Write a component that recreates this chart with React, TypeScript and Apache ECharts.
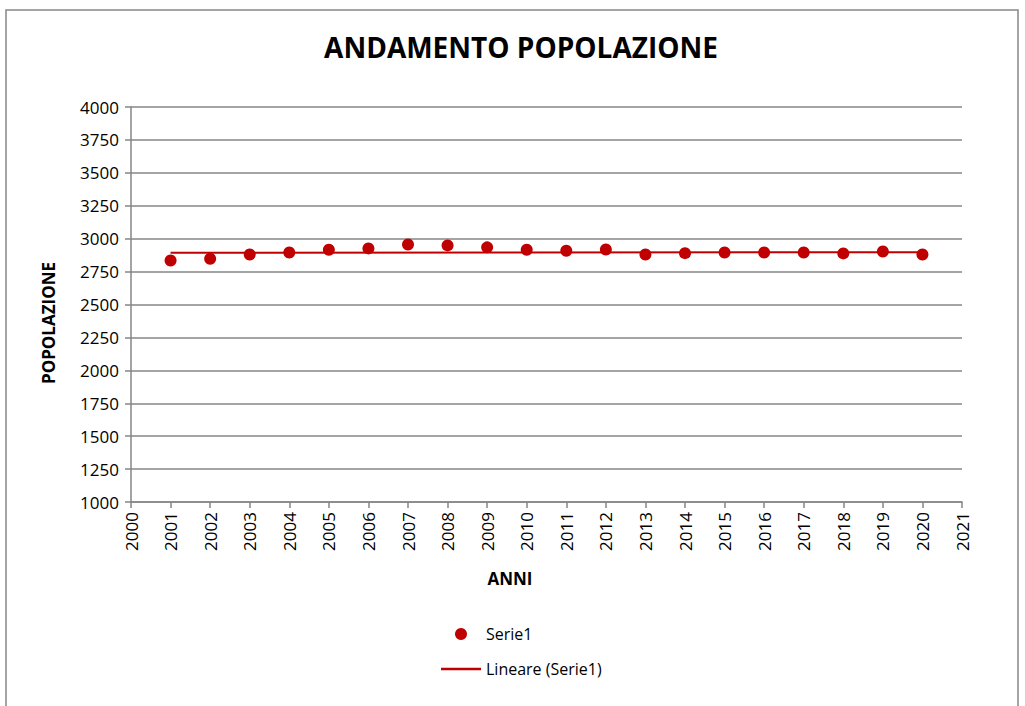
import React, { useEffect, useRef } from "react";
import * as echarts from "echarts";

const years = [2001, 2002, 2003, 2004, 2005, 2006, 2007, 2008, 2009, 2010, 2011, 2012, 2013, 2014, 2015, 2016, 2017, 2018, 2019, 2020];
const population = [2834, 2847, 2880, 2895, 2916, 2926, 2956, 2949, 2934, 2916, 2908, 2918, 2880, 2890, 2895, 2895, 2895, 2888, 2903, 2880];
const trendYears = [2001, 2020];
const trendValues = [2893, 2897];

const FONT = "Open Sans";
const RED = "#C00000";
const GRAY = "#868686";

export default function App() {
  const ref = useRef<HTMLDivElement>(null);
  useEffect(() => {
    const chart = echarts.init(ref.current!, undefined, { renderer: "svg" });
    chart.setOption({
      animation: false,
      backgroundColor: "#ffffff",
      graphic: [
        {
          type: "rect",
          shape: { x: 6, y: 10, width: 1012, height: 710 },
          style: { fill: "none", stroke: GRAY, lineWidth: 1.5 },
          silent: true,
        },
        {
          type: "text",
          x: 521,
          y: 47,
          style: {
            text: "ANDAMENTO POPOLAZIONE",
            fontFamily: FONT,
            fontSize: 28,
            fontWeight: "bold",
            fill: "#000",
            align: "center",
            verticalAlign: "middle",
          },
          silent: true,
        },
        {
          type: "text",
          x: 48,
          y: 323,
          rotation: Math.PI / 2,
          style: {
            text: "POPOLAZIONE",
            fontFamily: FONT,
            fontSize: 17,
            fontWeight: "bold",
            fill: "#000",
            align: "center",
            verticalAlign: "middle",
          },
          silent: true,
        },
        {
          type: "text",
          x: 510,
          y: 578,
          style: {
            text: "ANNI",
            fontFamily: FONT,
            fontSize: 17,
            fontWeight: "bold",
            fill: "#000",
            align: "center",
            verticalAlign: "middle",
          },
          silent: true,
        },
      ],
      grid: { left: 131, right: 63, top: 107, bottom: 204 },
      xAxis: {
        type: "value",
        min: 2000,
        max: 2021,
        interval: 1,
        axisLine: { show: true, lineStyle: { color: GRAY, width: 1.5 } },
        axisTick: { show: true, length: 6, lineStyle: { color: GRAY, width: 1.5 } },
        axisLabel: {
          rotate: 90,
          fontFamily: FONT,
          fontSize: 17,
          color: "#000",
          margin: 10,
          formatter: (v: number) => String(v),
        },
        splitLine: { show: false },
      },
      yAxis: {
        type: "value",
        min: 1000,
        max: 4000,
        interval: 250,
        axisLine: { show: true, lineStyle: { color: GRAY, width: 1.5 } },
        axisTick: { show: true, length: 6, lineStyle: { color: GRAY, width: 1.5 } },
        axisLabel: {
          fontFamily: FONT,
          fontSize: 17,
          color: "#000",
          margin: 12,
          formatter: (v: number) => String(v),
        },
        splitLine: { show: true, lineStyle: { color: GRAY, width: 1.5 } },
      },
      legend: {
        orient: "vertical",
        left: 436,
        top: 621,
        itemWidth: 40,
        itemHeight: 12,
        itemGap: 19,
        textStyle: { fontFamily: FONT, fontSize: 16, color: "#000" },
        data: [
          { name: "Serie1", icon: "circle" },
          { name: "Lineare (Serie1)", icon: "path://M0,0h40v2.5h-40z" },
        ],
      },
      series: [
        {
          name: "Serie1",
          type: "scatter",
          symbol: "circle",
          symbolSize: 12,
          itemStyle: { color: RED, opacity: 1 },
          data: years.map((y, i) => [y, population[i]]),
          z: 3,
        },
        {
          name: "Lineare (Serie1)",
          type: "line",
          showSymbol: false,
          symbol: "none",
          lineStyle: { color: RED, width: 2 },
          itemStyle: { color: RED },
          data: trendYears.map((y, i) => [y, trendValues[i]]),
          z: 2,
        },
      ],
    });
    return () => chart.dispose();
  }, []);
  return (
    <div
      ref={ref}
      style={{ position: "fixed", left: 0, top: 0, width: 1025, height: 706 }}
    />
  );
}
